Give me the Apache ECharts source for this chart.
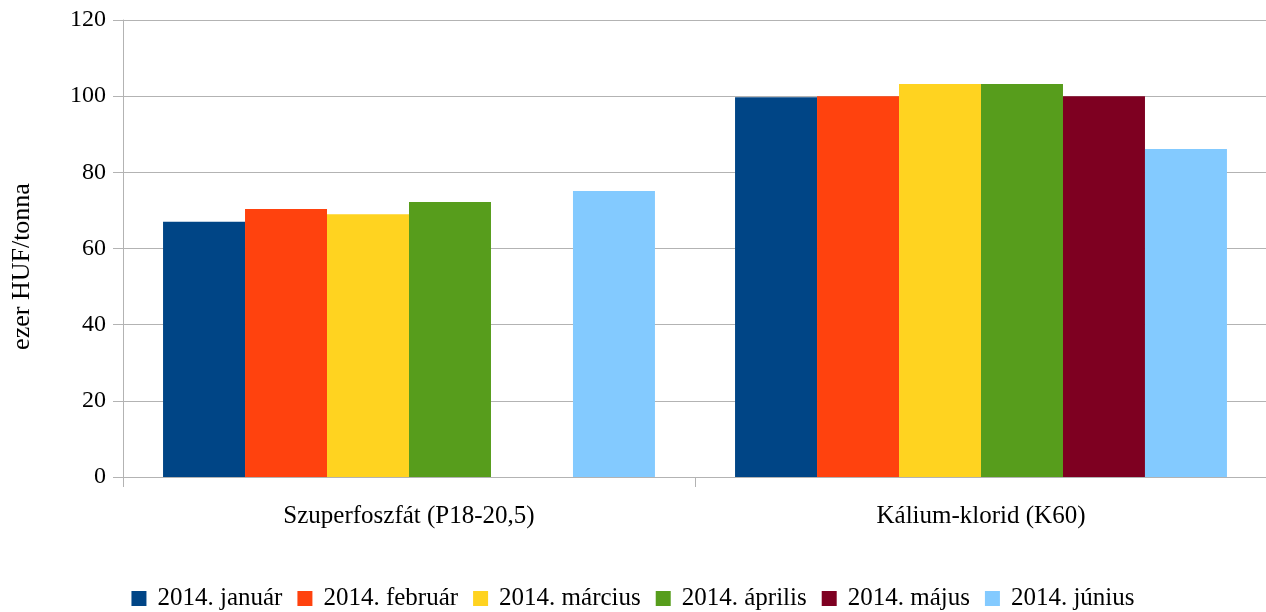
<!DOCTYPE html>
<html><head><meta charset="utf-8">
<script src="https://cdn.jsdelivr.net/npm/echarts@6/dist/echarts.min.js"></script>
<style>html,body{margin:0;padding:0;background:#fff}#c{width:1266px;height:612px}</style>
</head><body><div id="c"></div>
<script>
const categories = ['Szuperfoszfát (P18-20,5)', 'Kálium-klorid (K60)'];
const seriesNames = ['2014. január', '2014. február', '2014. március', '2014. április', '2014. május', '2014. június'];
const jan = [67, 99.7];
const feb = [70.4, 100];
const mar = [69, 103.2];
const apr = [72.2, 103.2];
const maj = [null, 100];
const jun = [75.1, 86.1];
const yTicks = [0, 20, 40, 60, 80, 100, 120];
const colors = ['#004586', '#ff420e', '#ffd320', '#579d1c', '#7e0021', '#83caff'];
const values = [jan, feb, mar, apr, maj, jun];
const font = '"Liberation Serif", "Times New Roman", serif';
const chart = echarts.init(document.getElementById('c'));
chart.setOption({
  animation: false,
  textStyle: { fontFamily: font },
  grid: { left: 123, right: -1, top: 20, bottom: 135, containLabel: false, outerBoundsMode: 'none' },
  legend: {
    top: 581, left: 'center', itemWidth: 15, itemHeight: 15, itemGap: 15,
    icon: 'rect',
    textStyle: { fontFamily: font, fontSize: 25, color: '#000', padding: [0, 0, 0, 6] },
    data: seriesNames
  },
  xAxis: {
    type: 'category', data: categories,
    axisLine: { lineStyle: { color: '#b3b3b3', width: 1 } },
    axisTick: { show: true, length: 10, lineStyle: { color: '#b3b3b3' } },
    axisLabel: { fontFamily: font, fontSize: 25, color: '#000', margin: 27 }
  },
  yAxis: {
    type: 'value', min: 0, max: 120, interval: 20,
    name: 'ezer HUF/tonna', nameLocation: 'middle', nameGap: 88,
    nameTextStyle: { fontFamily: font, fontSize: 26, color: '#000', padding: [0, 36, 0, 0] },
    axisLine: { show: true, lineStyle: { color: '#b3b3b3' } },
    axisTick: { show: true, length: 10, lineStyle: { color: '#b3b3b3' } },
    axisLabel: { fontFamily: font, fontSize: 24, color: '#000', margin: 17,
      formatter: v => yTicks.includes(v) ? String(v) : '' },
    splitLine: { lineStyle: { color: '#b3b3b3' } }
  },
  series: seriesNames.map((n, i) => ({
    name: n, type: 'bar', data: values[i],
    itemStyle: { color: colors[i] },
    barGap: '0%', barCategoryGap: '14%'
  }))
});
</script></body></html>
